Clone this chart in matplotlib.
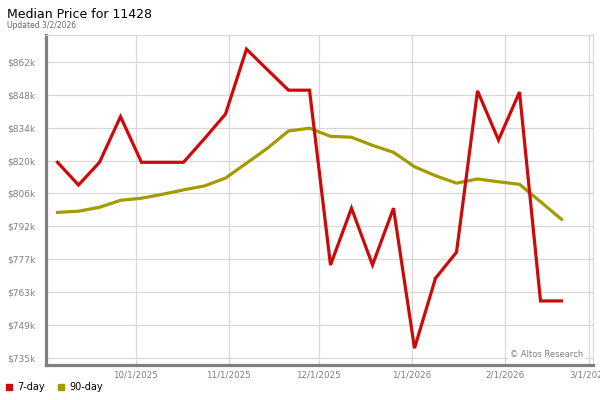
import matplotlib
matplotlib.use('Agg')
import matplotlib.pyplot as plt
import matplotlib.dates as mdates
from matplotlib.lines import Line2D
import pandas as pd

# weekly points (Fridays), values in $k
dates = pd.date_range('2025-09-05', '2026-02-20', freq='7D')
price_7day = [819.7, 809.9, 819.7, 839.4, 819.7, 819.7, 819.7, 829.9, 840.5, 868.5,
              859.6, 850.8, 850.8, 775.4, 799.9, 775.4, 799.9, 739.5, 769.7, 780.9,
              850.5, 829.3, 850.0, 759.9, 759.9]
price_90day = [798.1, 798.6, 800.3, 803.3, 804.2, 805.9, 807.8, 809.5, 812.9, 819.3,
               825.8, 833.2, 834.4, 830.9, 830.5, 827.0, 824.0, 817.8, 813.9, 810.7,
               812.5, 811.3, 810.2, 802.7, 795.1]

ytick_vals = [735.5 + i * 14.15 for i in range(10)]
ytick_labels = ['$735k', '$749k', '$763k', '$777k', '$792k',
                '$806k', '$820k', '$834k', '$848k', '$862k']
xtick_dates = pd.to_datetime(['2025-10-01', '2025-11-01', '2025-12-01',
                              '2026-01-01', '2026-02-01', '2026-03-01'])
xtick_labels = ['10/1/2025', '11/1/2025', '12/1/2025', '1/1/2026', '2/1/2026', '3/1/2026']

red = '#cc0a0a'
olive = '#a39b00'

fig = plt.figure(figsize=(6, 4), dpi=100)
ax = fig.add_axes([45.5 / 600, 1 - 364.7 / 400, 547.5 / 600, 329.7 / 400])

ax.plot(dates, price_90day, color=olive, lw=2.3, solid_joinstyle='miter', zorder=3)
ax.plot(dates, price_7day, color=red, lw=2.3, solid_joinstyle='miter', zorder=4)

ax.set_xlim(pd.Timestamp('2025-09-01'), pd.Timestamp('2026-03-02 12:00'))
ax.set_ylim(732.4, 874.6)

ax.set_yticks(ytick_vals)
ax.set_yticklabels(ytick_labels)
ax.set_xticks(xtick_dates)
ax.set_xticklabels(xtick_labels)
ax.tick_params(axis='y', length=0, pad=7, labelsize=6.5, labelcolor='#808080')
ax.tick_params(axis='x', length=0, pad=4, labelsize=6.3, labelcolor='#808080')

ax.grid(True, color='#d8d8d8', lw=0.9)
ax.set_axisbelow(True)

for s in ['left', 'bottom']:
    ax.spines[s].set_color('#808080')
    ax.spines[s].set_linewidth(2.3)
for s in ['top', 'right']:
    ax.spines[s].set_color('#d8d8d8')
    ax.spines[s].set_linewidth(0.9)

ax.text(0.982, 0.032, '\u00a9 Altos Research', transform=ax.transAxes, ha='right', va='center',
        fontsize=6, color='#808080', zorder=5,
        bbox=dict(facecolor='white', edgecolor='none', pad=1.5))

fig.text(7 / 600, 1 - 18 / 400, 'Median Price for 11428', fontsize=9, va='baseline')
fig.text(7 / 600, 1 - 28 / 400, 'Updated 3/2/2026', fontsize=5.5, color='#666666', va='baseline')

handles = [Line2D([], [], marker='s', color=red, ls='None', markersize=5),
           Line2D([], [], marker='s', color=olive, ls='None', markersize=5)]
fig.legend(handles, ['7-day', '90-day'], loc='center left', bbox_to_anchor=(0.0, 1 - 387 / 400),
           ncol=2, frameon=False, fontsize=7, handletextpad=0.3, columnspacing=1.0,
           borderaxespad=0.0, borderpad=0.3, handlelength=1.2)

fig.savefig('out.png', dpi=100)
